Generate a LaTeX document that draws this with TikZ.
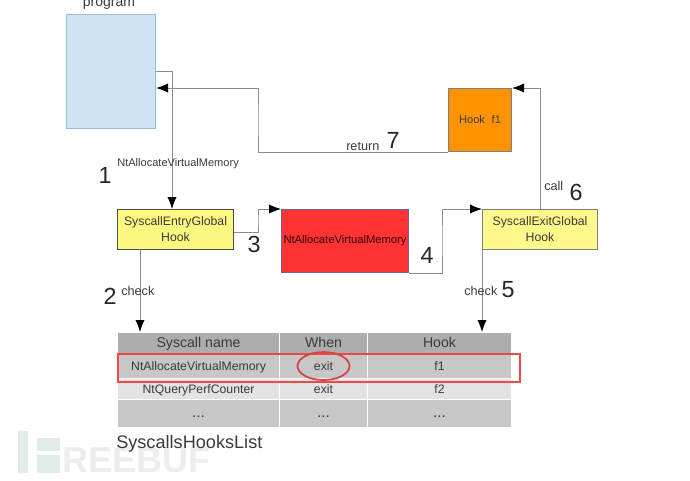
\documentclass[tikz,border=0pt]{standalone}
\usepackage{fontspec}
\setmainfont{Liberation Sans}
\usetikzlibrary{arrows.meta}
\definecolor{txt}{HTML}{3A3A3A}
\definecolor{wire}{HTML}{8C8C8C}
\definecolor{hlred}{HTML}{F04848}
\definecolor{progfill}{HTML}{CFE3F3}
\definecolor{progline}{HTML}{9DBBDC}
\definecolor{wmgreen}{HTML}{E0EDE6}
\tikzset{
  boxn/.style={draw,line width=0.8pt,inner sep=0pt,align=center,text=txt,font=\fontsize{9.2}{12}\selectfont,anchor=north west},
  wirel/.style={draw=wire,line width=0.75pt,-{Latex[black,length=9pt,width=7pt]}},
  num/.style={font=\fontsize{17.5}{18}\selectfont,text=black!85,inner sep=0pt},
  lab/.style={font=\fontsize{9.5}{11}\selectfont,text=txt,inner sep=0pt},
  cell/.style={draw=white,line width=0.8pt,inner sep=0pt,anchor=north west,text=txt,text height=7pt,text depth=1pt,font=\fontsize{9.2}{11}\selectfont},
  head/.style={cell,fill=black!32,font=\fontsize{10.6}{12}\selectfont},
  rowa/.style={cell,fill=black!22},
  rowb/.style={cell,fill=black!11},
  rowc/.style={rowa,font=\fontsize{11.5}{12}\selectfont},
  wm/.style={fill=wmgreen,draw=none},
}
\begin{document}
\begin{tikzpicture}[x=0.75pt,y=-0.75pt]
\useasboundingbox (0,0) rectangle (690,480);
% watermark
\fill[wm] (18,431) rectangle (28,473);
\fill[wm] (37,438) rectangle (60,451);
\fill[wm] (37,455) rectangle (60,473);
\node[anchor=west,inner sep=0pt,text=black!7,font=\bfseries\fontsize{27}{27}\selectfont] (wmark) at (62,460) {REEBUF};
% boxes
\node[boxn,draw=progline,fill=progfill,minimum width=89pt*0.75,minimum height=114pt*0.75] (prog) at (66,14) {};
\node[inner sep=0pt,text=txt,font=\fontsize{10.5}{12}\selectfont] (progt) at (109,4) {program};
\node[boxn,draw=black!70,fill=yellow!50,minimum width=116pt*0.75,minimum height=40pt*0.75] (entry) at (117,209) {SyscallEntryGlobal\\Hook};
\node[boxn,draw=gray!80!blue,fill=red!80!white,text=black!80!red,minimum width=127pt*0.75,minimum height=63pt*0.75,font=\fontsize{8.4}{10}\selectfont] (nt) at (281,209) {NtAllocateVirtualMemory};
\node[boxn,draw=gray,fill=yellow!45,minimum width=115pt*0.75,minimum height=40pt*0.75] (exit) at (482,209) {SyscallExitGlobal\\Hook};
\node[boxn,draw=gray,fill=orange!85!yellow,minimum width=63pt*0.75,minimum height=63pt*0.75,font=\fontsize{8.3}{10}\selectfont] (hook) at (448,88) {Hook\,\, f1};
% table
\node[head,minimum width=162pt*0.75,minimum height=21pt*0.75] (h1) at (117,332) {Syscall name};
\node[head,minimum width=88pt*0.75,minimum height=21pt*0.75] (h2) at (279,332) {When};
\node[head,minimum width=144pt*0.75,minimum height=21pt*0.75] (h3) at (367,332) {Hook};
\node[rowa,minimum width=162pt*0.75,minimum height=25pt*0.75] (a1) at (117,353) {NtAllocateVirtualMemory};
\node[rowa,minimum width=88pt*0.75,minimum height=25pt*0.75] (a2) at (279,353) {exit};
\node[rowa,minimum width=144pt*0.75,minimum height=25pt*0.75] (a3) at (367,353) {f1};
\node[rowb,minimum width=162pt*0.75,minimum height=21pt*0.75] (b1) at (117,378) {NtQueryPerfCounter};
\node[rowb,minimum width=88pt*0.75,minimum height=21pt*0.75] (b2) at (279,378) {exit};
\node[rowb,minimum width=144pt*0.75,minimum height=21pt*0.75] (b3) at (367,378) {f2};
\node[rowc,minimum width=162pt*0.75,minimum height=28pt*0.75] (c1) at (117,399) {...};
\node[rowc,minimum width=88pt*0.75,minimum height=28pt*0.75] (c2) at (279,399) {...};
\node[rowc,minimum width=144pt*0.75,minimum height=28pt*0.75] (c3) at (367,399) {...};
% highlights
\node[draw=hlred,line width=1.4pt,inner sep=0pt,anchor=north west,minimum width=402pt*0.75,minimum height=28pt*0.75] (hl) at (117,353) {};
\draw[hlred!90!black,line width=1.3pt] (a2.center) ellipse [x radius=26,y radius=14];
\node[anchor=west,inner sep=0pt,text=txt,font=\fontsize{13.6}{15}\selectfont] (title) at (116,444) {SyscallsHooksList};
% connector helpers
\coordinate (pout) at (prog.east |- 0,71);
\coordinate (pin) at (prog.east |- 0,88);
\coordinate (einx) at (172,209);
\coordinate (rout) at (hook.south west);
\coordinate (rturn) at (258,120);
\coordinate (eout) at (entry.east |- 0,232);
\coordinate (eturn) at (258,220);
\coordinate (nout) at (nt.south east);
\coordinate (nturn) at (442,240);
\coordinate (xout) at (540,209);
\coordinate (hin) at (hook.north east);
\coordinate (ebot) at (140,249);
\coordinate (etop) at (140,332);
\coordinate (xbot) at (exit.south west);
\coordinate (xtab) at (482,332);
% connectors
\draw[wirel] (pout) -| (einx);
\draw[wirel] (rout) -| (rturn) |- (pin);
\draw[wirel] (eout) -| (eturn) |- (nt.north west);
\draw[wirel] (nout) -| (nturn) |- (exit.north west);
\draw[wirel] (xout) |- (hin);
\draw[wirel] (ebot) -- (etop);
\draw[wirel] (xbot) -- (xtab);
% labels
\node[lab,anchor=west,font=\fontsize{8.3}{10}\selectfont] (l1) at (117,164) {NtAllocateVirtualMemory};
\node[num] (n1) at (105,175) {1};
\node[num] (n2) at (110,296) {2};
\node[lab,anchor=west] (l2) at (121,291) {check};
\node[num] (n3) at (254,244) {3};
\node[num] (n4) at (427,255) {4};
\node[lab,anchor=west] (l5) at (464,291) {check};
\node[num] (n5) at (508,290) {5};
\node[lab,anchor=west] (l6) at (544,186) {call};
\node[num] (n6) at (576,192) {6};
\node[lab,anchor=west] (l7) at (346,146) {return};
\node[num] (n7) at (393,140) {7};
\end{tikzpicture}
\end{document}
